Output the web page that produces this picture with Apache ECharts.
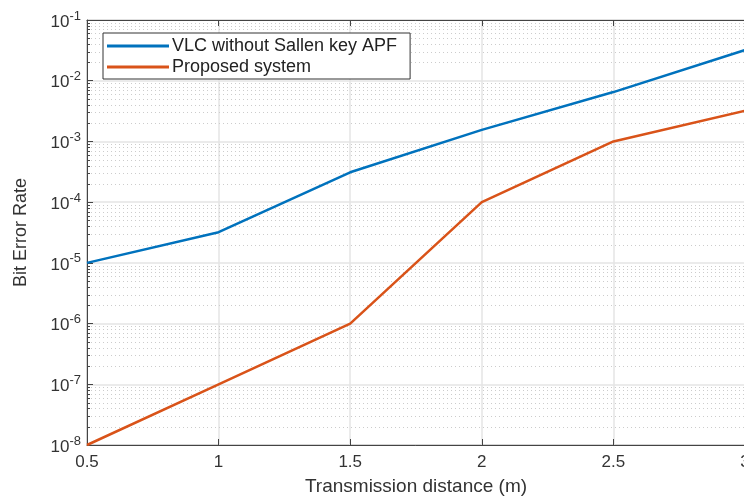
<!DOCTYPE html>
<html>
<head>
<meta charset="utf-8">
<script src="https://cdn.jsdelivr.net/npm/echarts@6/dist/echarts.min.js"></script>
<style>
html,body{margin:0;padding:0;background:#fff;}
#chart{width:744px;height:498px;}
</style>
</head>
<body>
<div id="chart"></div>
<script>
// ---- data ----
const distances = [0.5, 1, 1.5, 2, 2.5, 3];
const berWithoutApf = [1e-5, 3.2e-5, 3.1e-4, 1.55e-3, 6.5e-3, 3.2e-2];
const berProposed = [1e-8, 1e-7, 1e-6, 1e-4, 1e-3, 3.2e-3];
const seriesNames = ['VLC without Sallen key APF', 'Proposed system'];
const yExponents = [-8, -7, -6, -5, -4, -3, -2, -1];
const minorMantissas = [2, 3, 4, 5, 6, 7, 8, 9];

// minor grid positions (2..9 x 10^n)
const minorValues = [];
for (let i = 0; i < yExponents.length - 1; i++) {
  for (const m of minorMantissas) minorValues.push([0.5, m * Math.pow(10, yExponents[i])]);
}

const FONT = 'Liberation Sans, Arial, sans-serif';
const chart = echarts.init(document.getElementById('chart'));

const option = {
  backgroundColor: '#fff',
  animation: false,
  grid: { left: 87, top: 20, right: -1, bottom: 53, containLabel: false, outerBoundsMode: 'none',
          show: true, borderColor: '#444', borderWidth: 1, backgroundColor: 'transparent' },
  legend: {
    data: seriesNames,
    orient: 'vertical',
    left: 103, top: 33,
    backgroundColor: '#fff',
    borderColor: '#333', borderWidth: 1,
    padding: [4, 13, 3, 4],
    itemWidth: 62, itemHeight: 3, itemGap: 3,
    icon: 'rect',
    textStyle: { fontFamily: FONT, fontSize: 18, color: '#222', padding: [0, 0, 0, -2] }
  },
  xAxis: [{
    type: 'value', min: 0.5, max: 3, interval: 0.5,
    name: 'Transmission distance (m)', nameLocation: 'middle', nameGap: 32,
    nameTextStyle: { fontFamily: FONT, fontSize: 19, color: '#333' },
    axisLine: { show: true, lineStyle: { color: '#444', width: 1 } },
    axisTick: { show: true, inside: true, length: 6, lineStyle: { color: '#444' } },
    axisLabel: { fontFamily: FONT, fontSize: 17, color: '#333', margin: 9 },
    splitLine: { show: true, lineStyle: { color: '#e4e4e4', width: 1.5 } }
  }, {
    type: 'value', min: 0.5, max: 3, interval: 0.5, position: 'top',
    axisLine: { show: true, lineStyle: { color: '#444', width: 1 } },
    axisTick: { show: true, inside: true, length: 6, lineStyle: { color: '#444' } },
    axisLabel: { show: false }, splitLine: { show: false }
  }],
  yAxis: {
    type: 'log', logBase: 10, min: 1e-8, max: 1e-1,
    name: 'Bit Error Rate', nameLocation: 'middle', nameGap: 57,
    nameTextStyle: { fontFamily: FONT, fontSize: 18, color: '#333' },
    axisLine: { show: true, lineStyle: { color: '#444', width: 1 } },
    axisTick: { show: true, inside: true, length: 6, lineStyle: { color: '#444' } },
    axisLabel: {
      margin: 6,
      formatter: function (v) {
        const e = Math.round(Math.log10(v));
        return '{b|10}{s|' + e + '}';
      },
      rich: {
        b: { fontFamily: FONT, fontSize: 17, color: '#333', verticalAlign: 'bottom' },
        s: { fontFamily: FONT, fontSize: 13, color: '#333', verticalAlign: 'bottom', padding: [0, 0, 8, 0] }
      }
    },
    splitLine: { show: true, lineStyle: { color: '#e4e4e4', width: 1.5 } }
  },
  series: [{
    type: 'custom',
    name: 'minor',
    silent: true,
    z: 1,
    xAxisIndex: 0,
    data: minorValues,
    encode: { x: 0, y: 1 },
    renderItem: function (params, api) {
      const cs = params.coordSys;
      const y = Math.round(api.coord([api.value(0), api.value(1)])[1]) + 0.5;
      return {
        type: 'group',
        children: [{
          type: 'line',
          shape: { x1: cs.x, y1: y, x2: cs.x + cs.width, y2: y },
          style: { stroke: '#cccccc', lineWidth: 1, lineDash: [1, 3] }
        }, {
          type: 'line',
          shape: { x1: cs.x, y1: y, x2: cs.x + 3, y2: y },
          style: { stroke: '#444', lineWidth: 1 }
        }]
      };
    }
  }, {
    name: seriesNames[0], type: 'line', z: 3,
    data: distances.map((d, i) => [d, berWithoutApf[i]]),
    symbol: 'none', lineStyle: { color: '#0072BD', width: 2.5 }, itemStyle: { color: '#0072BD' }
  }, {
    name: seriesNames[1], type: 'line', z: 3,
    data: distances.map((d, i) => [d, berProposed[i]]),
    symbol: 'none', lineStyle: { color: '#D95319', width: 2.5 }, itemStyle: { color: '#D95319' }
  }]
};
chart.setOption(option);
</script>
</body>
</html>
